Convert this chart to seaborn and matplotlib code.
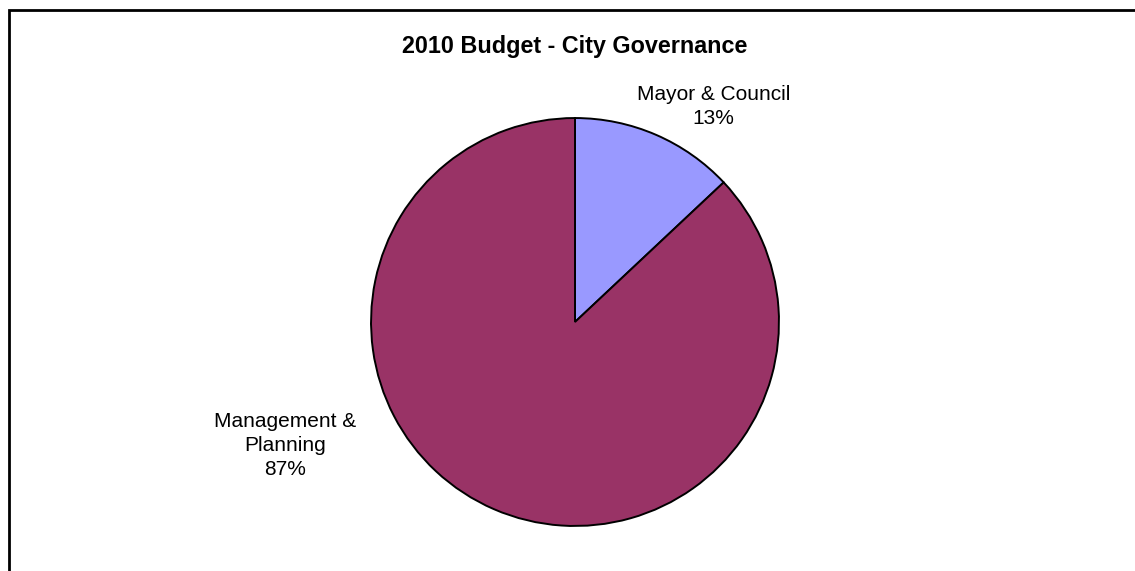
import matplotlib
matplotlib.use("Agg")
import matplotlib.pyplot as plt
from matplotlib.patches import Rectangle
import seaborn as sns

# Budget share by division (percent)
categories = ["Mayor & Council", "Management &\nPlanning"]
shares = [13, 87]
colors = ["#9999FF", "#993366"]

sns.set_theme(style="white")
plt.rcParams["font.family"] = ["Liberation Sans", "DejaVu Sans"]

fig = plt.figure(figsize=(11.35, 5.71), dpi=100)
fig.patch.set_facecolor("white")

# Chart frame
fig.patches.append(Rectangle((8.5 / 1135, -0.2), 1.2, 1.2 - 9.5 / 571,
                             transform=fig.transFigure, fill=False,
                             edgecolor="black", linewidth=2.0, zorder=0))

ax = fig.add_axes([369 / 1135, 43 / 571, 412 / 1135, 412 / 571])
wedges, _ = ax.pie(shares, colors=colors, startangle=90, counterclock=False,
                   radius=1.0, wedgeprops=dict(edgecolor="black", linewidth=1.4))
ax.set_xlim(-1.01, 1.01)
ax.set_ylim(-1.01, 1.01)
ax.set_aspect("equal")
ax.axis("off")

label_pos = [(0.68, 1.055), (-1.42, -0.605)]
for name, val, (x, y) in zip(categories, shares, label_pos):
    ax.text(x, y, f"{name}\n{val}%", ha="center", va="center", fontsize=15,
            color="black", linespacing=1.31, clip_on=False)

fig.text(575 / 1135, 1 - 47 / 571, "2010 Budget - City Governance",
         ha="center", va="center", fontsize=16.8, fontweight="bold", color="black")

fig.savefig("out.png", dpi=100, facecolor="white")
